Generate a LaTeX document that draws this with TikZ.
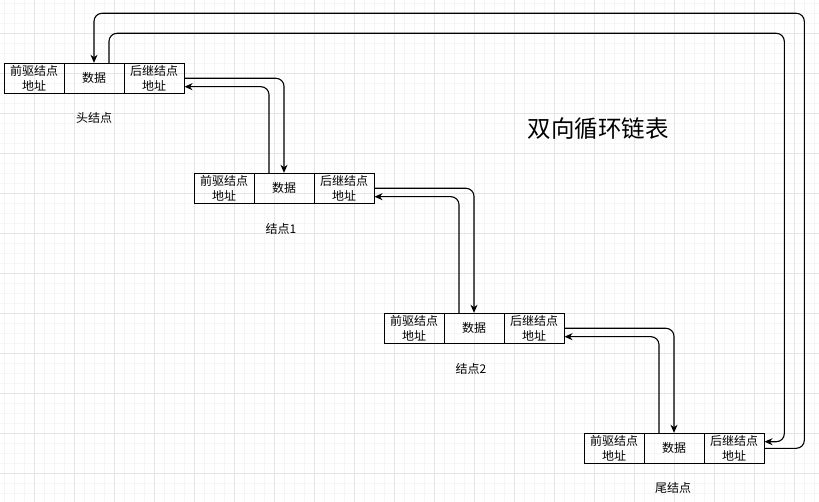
\documentclass[tikz,border=0pt]{standalone}
\usepackage{fontspec}
\newfontfamily\cjk{Noto Sans CJK SC}
\usetikzlibrary{arrows.meta}
\begin{document}
\begin{tikzpicture}[x=1pt,y=-1pt,
  cell/.style={draw=black,line width=1pt,minimum width=60pt,minimum height=30pt,inner sep=0pt,align=center,font=\cjk\fontsize{12}{15}\selectfont},
  lbl/.style={font=\cjk\fontsize{12}{15}\selectfont},
  ttl/.style={font=\cjk\fontsize{23.5}{28}\selectfont},
  link/.style={draw=black,line width=1.1pt,rounded corners=8pt,-{Stealth[length=8pt,width=7pt,inset=2.5pt]}},
  minorline/.style={draw=black!4,line width=1pt},
  majorline/.style={draw=black!10,line width=1pt}]
\useasboundingbox (0,0) rectangle (819,502);
\fill[white] (0,0) rectangle (819,502);
\foreach \x in {4,14,...,814} \draw[minorline] (\x,0) -- (\x,502);
\foreach \y in {3.3,13.3,...,500} \draw[minorline] (0,\y) -- (819,\y);
\foreach \x in {34,74,...,814} \draw[majorline] (\x,0) -- (\x,502);
\foreach \y in {33.3,73.3,...,500} \draw[majorline] (0,\y) -- (819,\y);

% head
\node[cell] (hP) at (34,78.3) {前驱结点\\地址};
\node[cell] (hD) at (94,78.3) {数据};
\node[cell] (hN) at (154,78.3) {后继结点\\地址};
\node[lbl] (hL) at (94,118) {头结点};
% node 1
\node[cell] (aP) at (224,188.3) {前驱结点\\地址};
\node[cell] (aD) at (284,188.3) {数据};
\node[cell] (aN) at (344,188.3) {后继结点\\地址};
\node[lbl] (aL) at (281,229) {结点1};
% node 2
\node[cell] (bP) at (414,328.3) {前驱结点\\地址};
\node[cell] (bD) at (474,328.3) {数据};
\node[cell] (bN) at (534,328.3) {后继结点\\地址};
\node[lbl] (bL) at (471,369) {结点2};
% tail
\node[cell] (tP) at (614,448.3) {前驱结点\\地址};
\node[cell] (tD) at (674,448.3) {数据};
\node[cell] (tN) at (734,448.3) {后继结点\\地址};
\node[lbl] (tL) at (673,488) {尾结点};

\node[ttl] (title) at (598,129) {双向循环链表};

\coordinate (c1) at (804.3,13.3);
\coordinate (c2) at (784.3,33.3);

\draw[link] (hN.east) -| (aD.north);
\draw[link] ([xshift=-15pt]aD.north) |- ([yshift=-8.4pt]hN.east);
\draw[link] (aN.east) -| (bD.north);
\draw[link] ([xshift=-15pt]bD.north) |- ([yshift=-8.4pt]aN.east);
\draw[link] (bN.east) -| (tD.north);
\draw[link] ([xshift=-15pt]tD.north) |- ([yshift=-8.4pt]bN.east);
\draw[link] (tN.east) -| (c1) -| (hD.north);
\draw[link] ([xshift=15pt]hD.north) |- (c2) |- ([yshift=6.6pt]tN.east);
\end{tikzpicture}
\end{document}
